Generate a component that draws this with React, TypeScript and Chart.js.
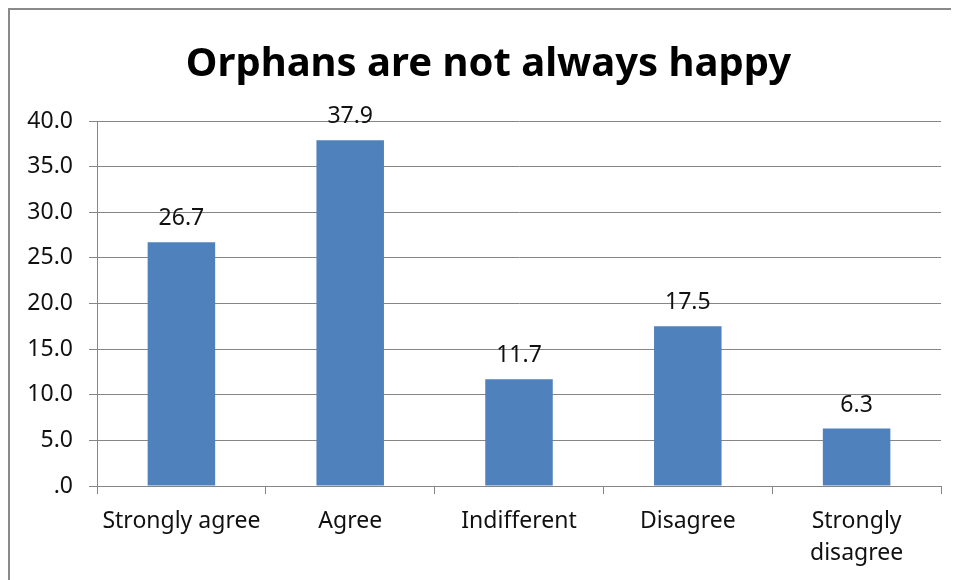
import React, { useEffect, useRef } from "react";
import { Chart, registerables } from "chart.js";

Chart.register(...registerables);

const categories: (string | string[])[] = [
  "Strongly agree",
  "Agree",
  "Indifferent",
  "Disagree",
  ["Strongly", "disagree"],
];
const percentages: number[] = [26.7, 37.9, 11.7, 17.5, 6.3];
const titleText = "Orphans are not always happy";
const yMin = 0;
const yMax = 40;
const yStep = 5;

const FONT = "'Noto Sans', sans-serif";
const BAR_BLUE = "#4F81BD";
const GRID_GRAY = "#868686";

// Writes each bar's value just above its top edge.
const valueLabels = {
  id: "valueLabels",
  afterDatasetsDraw(chart: Chart) {
    const ctx = chart.ctx;
    const meta = chart.getDatasetMeta(0);
    const data = chart.data.datasets[0].data as number[];
    ctx.save();
    ctx.font = `23px ${FONT}`;
    ctx.fillStyle = "#111";
    ctx.textAlign = "center";
    ctx.textBaseline = "alphabetic";
    meta.data.forEach((bar: any, i: number) => {
      ctx.fillText(data[i].toFixed(1), bar.x, bar.y - 17);
    });
    ctx.restore();
  },
};

function formatTick(v: number): string {
  const s = Number(v).toFixed(1);
  return s.startsWith("0.") ? s.slice(1) : s;
}

export default function App() {
  const canvasRef = useRef<HTMLCanvasElement | null>(null);

  useEffect(() => {
    if (!canvasRef.current) return;
    const chart = new Chart(canvasRef.current, {
      type: "bar",
      data: {
        labels: categories,
        datasets: [
          {
            data: percentages,
            backgroundColor: BAR_BLUE,
            borderWidth: 0,
            barPercentage: 0.4,
            categoryPercentage: 1,
          },
        ],
      },
      options: {
        animation: false,
        responsive: false,
        maintainAspectRatio: false,
        layout: { padding: 0 },
        plugins: {
          legend: { display: false },
          tooltip: { enabled: false },
          title: {
            display: true,
            text: titleText,
            color: "#000",
            font: { family: FONT, size: 40, weight: "bold", lineHeight: 1.2 },
            padding: { top: 31, bottom: 32 },
          },
        },
        scales: {
          x: {
            offset: true,
            grid: {
              display: true,
              drawOnChartArea: false,
              drawTicks: true,
              tickLength: 8,
              color: GRID_GRAY,
              offset: true,
            },
            border: { display: true, color: GRID_GRAY, width: 1 },
            ticks: {
              color: "#111",
              font: { family: FONT, size: 23, lineHeight: 1.38 },
              padding: 12,
              maxRotation: 0,
              autoSkip: false,
            },
            afterFit(scale: any) {
              scale.height = 94;
            },
          },
          y: {
            min: yMin,
            max: yMax,
            grid: {
              color: GRID_GRAY,
              drawTicks: true,
              tickLength: 8,
            },
            border: { display: true, color: GRID_GRAY, width: 1 },
            ticks: {
              stepSize: yStep,
              color: "#111",
              font: { family: FONT, size: 23 },
              padding: 16,
              callback: (v: any) => formatTick(Number(v)),
            },
            afterFit(scale: any) {
              scale.width = 87;
            },
          },
          // empty right-hand margin beside the plot
          gutter: {
            type: "linear",
            position: "right",
            display: true,
            grid: { display: false, drawTicks: false },
            border: { display: false },
            ticks: { display: false },
            afterFit(scale: any) {
              scale.width = 26;
            },
          },
        },
      },
      plugins: [valueLabels],
    } as any);
    return () => chart.destroy();
  }, []);

  return (
    <div
      style={{
        width: 951,
        height: 572,
        boxSizing: "border-box",
        borderTop: "2px solid #8a8a8a",
        borderLeft: "2px solid #8a8a8a",
        overflow: "hidden",
        background: "#fff",
      }}
    >
      <canvas
        ref={canvasRef}
        width={957}
        height={570}
        style={{ display: "block", width: 957, height: 570 }}
      />
    </div>
  );
}
